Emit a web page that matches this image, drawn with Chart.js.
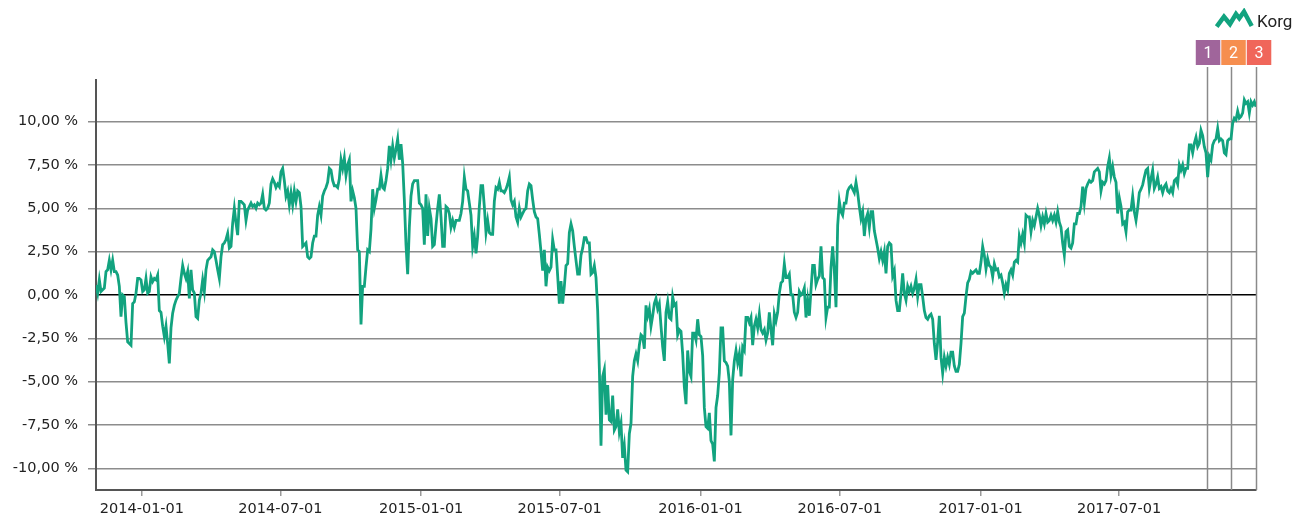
<!DOCTYPE html>
<html><head><meta charset="utf-8">
<script src="https://cdn.jsdelivr.net/npm/chart.js@4"></script>
<style>
html,body{margin:0;padding:0;background:#fff;}
#wrap{position:relative;width:1295px;height:517px;overflow:hidden;}
#c{position:absolute;left:0;top:0;}
#logoIcon{position:absolute;left:1214px;top:8px;}
#logoText{position:absolute;left:1257px;top:13px;font-family:Roboto,sans-serif;font-size:17px;line-height:17px;color:#222;}
</style></head>
<body><div id="wrap">
<canvas id="c" width="1295" height="517"></canvas>
<svg id="logoIcon" width="42" height="24" viewBox="0 0 42 24"><polyline points="2.7,18.7 10,8.7 16,16 22,6 25.3,10.3 30,3.7 37.7,18" fill="none" stroke="#12a37f" stroke-width="4.5" stroke-linejoin="miter" stroke-linecap="butt"/></svg>
<span id="logoText">Korg</span>
</div>
<script>
// ---- data ----
const startDate = '2013-11-02';
const endDate = '2017-12-27';
const valuesNov13toAug14 = [0.58,0.1,0.87,0.2,0.3,0.4,1.35,1.45,2.0,1.45,2.0,1.35,1.35,1.15,0.5,-1.25,0.0,-0.1,-1.6,-2.7,-2.8,-2.9,-0.5,-0.4,0.1,0.95,0.95,0.87,0.2,0.3,0.95,0.1,0.2,1.05,0.77,0.95,0.87,1.15,-0.9,-1.0,-1.8,-2.4,-1.8,-2.8,-3.95,-1.9,-1.05,-0.6,-0.3,-0.1,0.1,0.95,1.7,1.25,0.95,1.35,-0.2,1.45,0.3,0.1,-1.25,-1.35,-0.3,0.1,0.87,0.2,1.45,2.0,2.1,2.2,2.6,2.5,2.0,1.45,0.95,2.2,2.9,3.0,3.2,3.55,2.7,2.8,4.15,5.0,4.15,3.45,5.4,
5.4,5.3,5.2,4.3,4.9,5.1,5.3,5.1,5.2,5.0,5.3,5.2,5.3,5.8,5.0,4.9,5.0,5.3,6.4,6.7,6.5,6.2,6.4,6.25,7.1,7.3,6.6,5.7,6.0,5.2,5.9,5.2,6.0,5.4,6.0,5.9,5.1];
const valuesAug14toJun15 = [2.8,2.9,3.0,2.2,2.1,2.2,3.0,3.4,3.4,4.6,5.1,4.6,5.7,6.0,6.2,6.5,7.3,7.2,6.6,6.3,6.3,6.2,6.7,7.8,7.3,7.9,6.9,7.5,7.8,5.4,6.0,5.6,5.0,2.6,2.5,-1.7,0.5,0.5,1.6,2.6,2.5,3.8,6.1,5.0,5.5,6.1,6.1,6.9,6.2,6.1,6.6,7.3,8.6,7.8,8.6,7.9,8.4,9.0,7.8,8.7,7.6,5.5,2.9,1.2,3.9,5.7,6.4,6.6,6.6,6.6,5.3,5.2,5.0,2.9,5.8,3.4,5.0,4.4,2.8,2.9,4.0,5.0,5.8,4.5,2.8,2.8,5.1,5.0,4.7,3.9,4.3,3.9,4.3,4.3,4.3,4.7,5.4,6.8,6.1,6.0,5.3,4.6,2.8,3.4,2.4,3.4,5.1,6.3,6.3,5.1,3.6,4.3,3.6,3.5,3.5,5.4,6.2,6.1,6.5,6.0,6.0,5.9,6.1,6.4,6.8,5.5,5.2,5.4,4.5,4.2,5.0,4.5,4.7,4.9,5.0,6.0,6.4,6.3,5.5,4.8,4.5,4.4,3.5];
const valuesJun15toFeb16 = [2.5,1.4,2.6,0.5,1.6,1.4,1.6,3.2,2.6,2.6,1.1,-0.5,0.8,-0.5,0.5,1.7,1.8,3.6,4.1,3.7,2.8,2.0,1.2,1.2,2.3,2.7,3.3,3.3,3.0,3.0,1.2,1.3,1.7,1.0,-0.9,-4.2,-8.7,-4.7,-4.3,-6.9,-5.2,-7.2,-7.3,-5.8,-7.8,-7.6,-6.6,-7.9,-7.4,-9.4,-8.7,-10.1,-10.2,-8.0,-7.4,-4.7,-3.8,-3.4,-3.8,-2.9,-2.3,-2.4,-3.1,-0.6,-1.2,-0.8,-1.8,-1.2,-0.5,-0.2,-0.8,-0.5,-1.8,-3.0,-3.8,-1.0,-0.4,-1.3,-1.4,-0.1,-0.6,-0.5,-2.3,-2.0,-2.1,-3.4,-5.3,-6.3,-3.2,-4.4,-4.7,-2.2,-2.2,-2.6,-1.4,-2.3,-2.4,-3.5,-6.5,-7.6,-7.7,-6.8,-8.4,-8.6,-9.6,-6.5,-5.8,-4.5,-1.9,-1.9,-3.8,-3.9,-4.1,-5.0,-8.1,-4.9,-3.8,-3.2,-3.9,-3.4];
const valuesFeb16toDec16 = [-4.7,-3.0,-3.2,-1.3,-1.3,-1.6,-1.3,-2.9,-1.8,-1.4,-1.9,-1.1,-2.0,-2.2,-2.0,-2.6,-2.2,-1.0,-2.0,-2.9,-1.1,-1.5,-1.0,0.1,0.7,0.8,1.8,1.0,1.0,1.2,0.0,0.0,-1.0,-1.3,-1.0,0.2,0.0,0.1,0.4,-1.3,-0.3,-1.2,0.3,1.7,1.7,0.6,0.9,1.1,2.8,1.0,0.9,-1.3,-0.7,-0.7,1.6,2.8,1.4,-0.7,4.0,5.4,4.8,4.6,5.3,5.3,6.0,6.2,6.3,6.1,5.9,6.5,5.9,5.1,4.4,4.8,3.4,4.4,4.7,3.9,4.8,4.8,3.7,3.2,2.7,2.1,2.5,2.0,2.5,1.25,2.8,3.0,2.9,1.1,1.4,-0.3,-0.9,-0.9,0.1,1.25,0.1,-0.3,0.5,0.2,0.5,0.1,0.4,0.9,-0.1,0.6,0.6,-0.1,-0.9,-1.3,-1.4,-1.2,-1.1,-1.4,-2.8,-3.75,-2.7,-1.2,-3.6,-4.5,-3.6,-4.1,-3.6,-4.0,-3.3,-3.3,-4.1,-4.4,-4.4];
const valuesDec16toDec17 = [-4.0,-2.8,-1.25,-1.05,-0.1,0.7,0.9,1.35,1.25,1.35,1.45,1.25,1.25,1.9,2.8,2.3,1.5,2.1,1.7,1.6,1.05,1.8,1.45,1.5,1.05,1.15,0.7,0.1,0.6,0.3,1.25,1.45,1.15,1.9,2.0,1.9,3.4,3.0,3.5,3.0,4.6,4.5,4.5,3.65,4.3,4.0,4.5,5.0,4.6,4.0,4.5,4.1,4.7,4.2,4.3,4.6,4.3,4.6,4.2,4.8,4.2,3.9,3.0,2.3,3.65,3.75,2.8,2.7,3.0,4.1,4.1,4.7,4.7,5.1,6.25,5.3,6.15,6.4,6.6,6.5,6.6,7.1,7.2,7.3,7.1,6.0,6.5,6.4,6.6,7.4,7.9,6.9,7.4,6.8,6.5,4.7,5.6,5.1,4.1,4.2,3.65,4.8,4.9,4.9,5.7,4.8,4.3,5.0,5.9,6.1,6.35,6.8,7.2,7.3,6.15,6.7,7.2,6.15,6.4,6.8,6.15,6.25,5.9,6.25,6.4,6.0,5.9,6.15,5.9,6.6,6.7,6.4,7.5,7.2,7.5,7.0,7.3,7.3,8.65,8.65,8.2,8.75,9.1,8.55,8.75,9.5,9.2,8.55,8.2,6.8,8.0,7.8,8.65,8.9,9.0,9.6,8.9,9.0,8.9,8.2,8.1,8.9,9.0,9.0,9.9,10.2,10.1,10.6,10.2,10.3,10.5,11.25,11.05,11.15,10.5,11.15,10.95,11.15,10.85];
const xTickDates = ['2014-01-01','2014-07-01','2015-01-01','2015-07-01','2016-01-01','2016-07-01','2017-01-01','2017-07-01'];
const yTicks = [-10,-7.5,-5,-2.5,0,2.5,5,7.5,10];
const eventDates = ['2017-10-24','2017-11-24','2017-12-27'];
const eventLabels = ['1','2','3'];
const eventColors = ['#a0659b','#f68e4f','#f0665a'];
const yMin = -11.25, yMax = 12.4;

// ---- build ----
const DAY = 86400000;
const dayNum = s => Date.parse(s + 'T00:00:00Z') / DAY;
const values = [].concat(valuesNov13toAug14, valuesAug14toJun15, valuesJun15toFeb16, valuesFeb16toDec16, valuesDec16toDec17);
const d0 = dayNum(startDate), d1 = dayNum(endDate);
const step = (d1 - d0) / (values.length - 1);
const points = values.map((v, i) => ({x: d0 + i * step, y: v}));
const FONT = "'DejaVu Sans'";

const eventPlugin = {
  id: 'events',
  beforeDatasetsDraw(chart) {
    const {ctx, chartArea, scales} = chart;
    ctx.save();
    ctx.strokeStyle = '#8a8a8a';
    ctx.lineWidth = 1.5;
    eventDates.forEach(d => {
      const x = Math.round(scales.x.getPixelForValue(dayNum(d))) + 0.5;
      ctx.beginPath();
      ctx.moveTo(x, 67);
      ctx.lineTo(x, chartArea.bottom);
      ctx.stroke();
    });
    ctx.restore();
  },
  afterDraw(chart) {
    const {ctx, scales} = chart;
    ctx.save();
    const w = 24.5, h = 25, top = 40;
    let prevRight = -Infinity;
    eventDates.forEach((d, k) => {
      const cx = scales.x.getPixelForValue(dayNum(d)) + 1;
      let left = cx - w / 2;
      if (left < prevRight + 1) left = prevRight + 1;
      prevRight = left + w;
      ctx.fillStyle = eventColors[k];
      ctx.fillRect(left, top, w, h);
      ctx.fillStyle = '#fff';
      ctx.font = '16px Roboto';
      ctx.textAlign = 'center';
      ctx.textBaseline = 'middle';
      ctx.fillText(eventLabels[k], left + w / 2, top + h / 2 + 1);
    });
    ctx.restore();
  }
};

new Chart(document.getElementById('c'), {
  type: 'line',
  data: {
    datasets: [{
      data: points,
      borderColor: '#12a37f',
      borderWidth: 2.8,
      pointRadius: 0,
      tension: 0,
      fill: false
    }]
  },
  options: {
    responsive: false,
    animation: false,
    devicePixelRatio: 1,
    layout: {padding: {top: 80, right: 39, bottom: 0, left: 0}},
    plugins: {legend: {display: false}, tooltip: {enabled: false}},
    scales: {
      x: {
        type: 'linear',
        min: d0,
        max: d1,
        afterBuildTicks: axis => { axis.ticks = xTickDates.map(d => ({value: dayNum(d)})); },
        afterFit: axis => { axis.height = 27; },
        ticks: {
          autoSkip: false, maxRotation: 0, padding: 5,
          color: '#222',
          font: {family: FONT, size: 14.5},
          callback: v => { const i = xTickDates.findIndex(d => dayNum(d) === v); return i >= 0 ? xTickDates[i] : ''; }
        },
        grid: {drawOnChartArea: false, drawTicks: true, tickLength: 6, color: '#9a9a9a', lineWidth: 1.5},
        border: {color: '#555', width: 2}
      },
      y: {
        min: yMin,
        max: yMax,
        afterBuildTicks: axis => { axis.ticks = yTicks.map(v => ({value: v})); },
        afterFit: axis => { axis.width = 96; },
        ticks: {
          padding: 10,
          color: '#222',
          font: {family: FONT, size: 14.5},
          callback: v => v.toFixed(2).replace('.', ',') + ' %'
        },
        grid: {
          tickLength: 8,
          lineWidth: 1.5,
          color: c => c.tick && c.tick.value === 0 ? '#000' : '#8c8c8c',
          tickColor: c => c.tick && c.tick.value === 0 ? 'rgba(0,0,0,0)' : '#8c8c8c'
        },
        border: {color: '#555', width: 2}
      }
    }
  },
  plugins: [eventPlugin]
});
</script>
</body></html>
